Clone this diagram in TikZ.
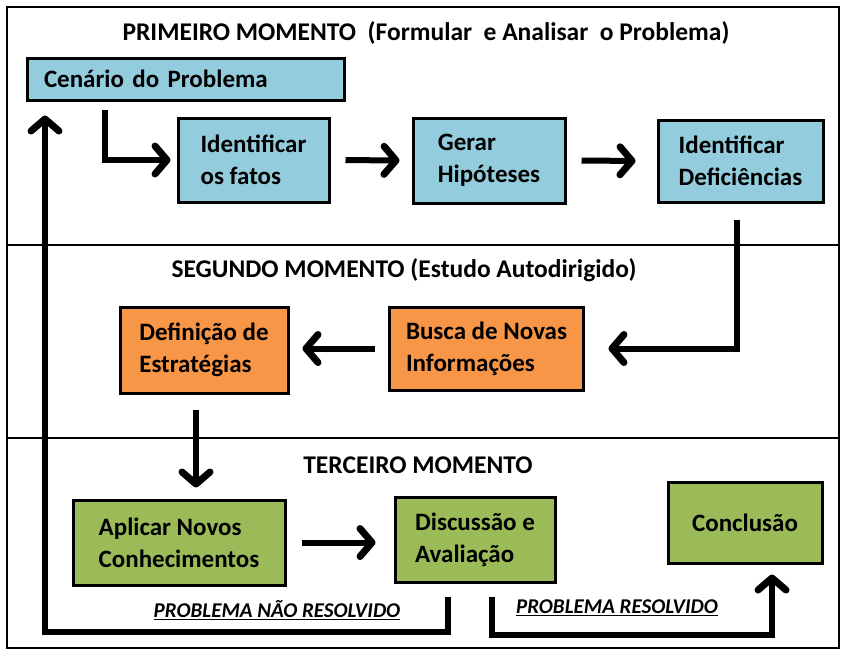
\documentclass[tikz,border=0pt]{standalone}
\usepackage{fontspec}
\setmainfont{Carlito}
\usetikzlibrary{arrows.meta}
\definecolor{azulc}{HTML}{93CDDD}
\definecolor{laranjac}{HTML}{F79646}
\definecolor{verdec}{HTML}{9BBB59}

\begin{document}
\begin{tikzpicture}[x=1pt, y=-1pt,
  caixa/.style={draw, line width=3pt, inner xsep=17pt, inner ysep=4pt, align=left,
    font=\fontsize{25}{32}\selectfont\bfseries},
  azul/.style={caixa, fill=azulc},
  laranja/.style={caixa, fill=laranjac},
  verde/.style={caixa, fill=verdec},
  titulo/.style={font=\fontsize{25.5}{30}\selectfont\bfseries},
  rotulo/.style={font=\fontsize{21}{24}\selectfont\bfseries\itshape},
  seta/.style={line width=6pt, -{Straight Barb[length=12pt,width=28pt,line width=7pt,round]}},
]
\useasboundingbox (0,0) rectangle (850,657);

% moldura e divisoes
\draw[line width=2.5pt] (7,7) rectangle (839,648);
\draw[line width=1.2pt] (7,245) -- (839,245);
\draw[line width=1.2pt] (7,438) -- (839,438);

% primeiro momento
\node[titulo] (t1) at (426,33) {PRIMEIRO MOMENTO\ \ (Formular\ \ e Analisar\ \ o Problema)};
\node[azul, text width=283pt, minimum height=42pt] (cen) at (185.5,79) {Cenário do Problema};
\node[azul, minimum width=151pt, minimum height=84pt] (fatos) at (253.5,160) {Identificar\\os fatos};
\node[azul, minimum width=152pt, minimum height=85pt] (hip) at (489,160.5) {Gerar\\Hipóteses};
\node[azul, minimum width=165pt, minimum height=82pt] (defic) at (740.5,161) {Identificar\\Deficiências};

% segundo momento
\node[titulo] (t2) at (404,270) {SEGUNDO MOMENTO (Estudo Autodirigido)};
\node[laranja, minimum width=187pt, minimum height=83pt] (busca) at (486.5,348.5) {Busca de Novas\\Informações};
\node[laranja, minimum width=168pt, minimum height=86pt] (estr) at (204,350) {Definição de\\Estratégias};

% terceiro momento
\node[titulo] (t3) at (418,465) {TERCEIRO MOMENTO};
\node[verde, minimum width=212pt, minimum height=85pt] (aplic) at (179,542.5) {Aplicar Novos\\Conhecimentos};
\node[verde, minimum width=160pt, minimum height=85pt] (disc) at (475,539.5) {Discussão e\\Avaliação};
\node[verde, minimum width=154pt, minimum height=81pt] (concl) at (745,522.5) {Conclusão};

% setas
\draw[seta, shorten <=8pt, shorten >=6pt] ([xshift=-80.5pt]cen.south) |- (fatos.west);
\draw[seta, shorten <=15pt, shorten >=12pt] (fatos.east) -- (hip.west);
\draw[seta, shorten <=15pt, shorten >=21pt] (hip.east) -- (defic.west);
\draw[seta, shorten <=16pt, shorten >=23pt] ([xshift=-3.5pt]defic.south) |- (busca.east);
\draw[seta, shorten <=13pt, shorten >=13pt] (busca.west) -- (busca.west -| estr.east);
\draw[seta, shorten <=15pt, shorten >=11pt] ([xshift=-8pt]estr.south) -- ([xshift=-8pt]estr.south |- aplic.north);
\draw[seta, shorten <=15pt, shorten >=18pt] (aplic.east) -- (aplic.east -| disc.west);

% retorno / conclusao
\coordinate (nr) at (45,632);
\coordinate (r) at (772,635);
\draw[seta, shorten <=13pt, shorten >=14pt] ([xshift=-27pt]disc.south) |- (nr) -- (nr |- cen.south);
\draw[seta, shorten <=13pt, shorten >=10pt] ([xshift=17pt]disc.south) |- (r) -- (r |- concl.south);
\node[rotulo] (lnr) at (277,610) {\underline{PROBLEMA NÃO RESOLVIDO}};
\node[rotulo] (lr) at (617,608) {\underline{PROBLEMA RESOLVIDO}};
\end{tikzpicture}
\end{document}
